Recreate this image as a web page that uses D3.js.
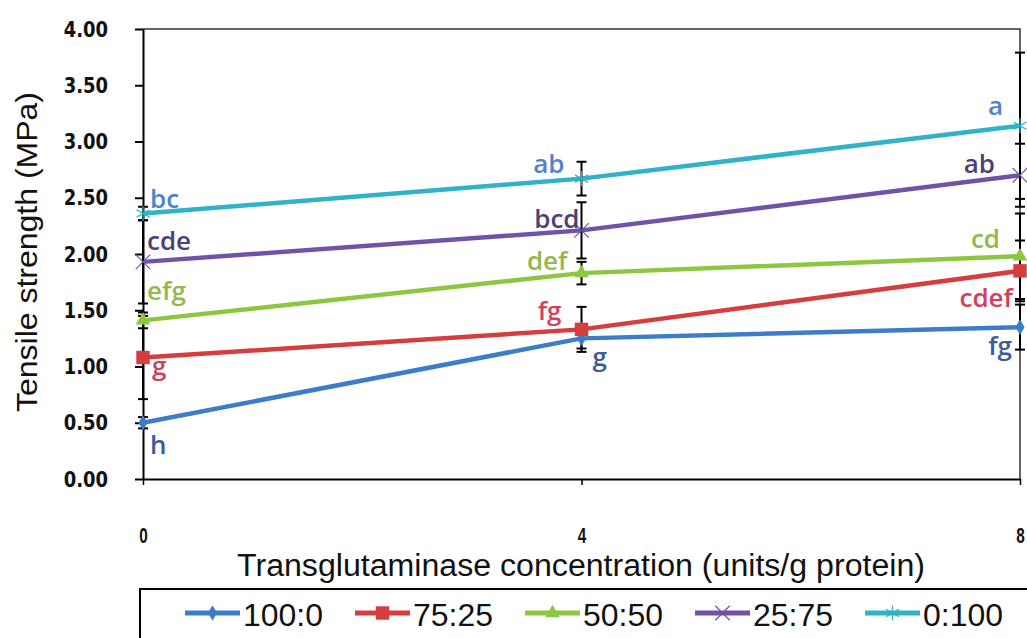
<!DOCTYPE html>
<html>
<head>
<meta charset="utf-8">
<script src="https://cdn.jsdelivr.net/npm/d3@7"></script>
<style>
  html, body { margin: 0; padding: 0; background: #fff; }
  svg { display: block; }
</style>
</head>
<body>
<svg id="chart" width="1027" height="638"></svg>
<script>
// ---------- data ----------
const concentrations = [0, 4, 8];
const xTickLabels = ["0", "4", "8"];
const yTickValues = [0, 0.5, 1, 1.5, 2, 2.5, 3, 3.5, 4];
const seriesNames = ["100:0", "75:25", "50:50", "25:75", "0:100"];

const values_100_0 = [0.50, 1.25, 1.35];
const values_75_25 = [1.08, 1.33, 1.85];
const values_50_50 = [1.41, 1.83, 1.98];
const values_25_75 = [1.93, 2.21, 2.70];
const values_0_100 = [2.36, 2.67, 3.14];

const errors_100_0 = [0.05, 0.09, 0.20];
const errors_75_25 = [0.37, 0.20, 0.27];
const errors_50_50 = [0.07, 0.10, 0.38];
const errors_25_75 = [0.37, 0.25, 0.28];
const errors_0_100 = [0.06, 0.15, 0.65];

const letters_100_0 = ["h", "g", "fg"];
const letters_75_25 = ["g", "fg", "cdef"];
const letters_50_50 = ["efg", "def", "cd"];
const letters_25_75 = ["cde", "bcd", "ab"];
const letters_0_100 = ["bc", "ab", "a"];

const xTitle = "Transglutaminase concentration (units/g protein)";
const yTitle = "Tensile strength (MPa)";

// ---------- styles ----------
const lineColors = ["#3d7cc9", "#d63d3f", "#8dc63f", "#7052a8", "#30b2c8"];
const letterColors = ["#3b5c9a", "#d2415a", "#93b84c", "#4c3f7a", "#4f82d2"];
const symbols = [d3.symbolDiamond, d3.symbolSquare, d3.symbolTriangle,
                 d3.symbolTimes || d3.symbolCross, d3.symbolAsterisk || d3.symbolStar];
const symbolSizes = [70, 180, 90, 140, 160];
const symbolStroked = [false, false, false, true, true];
const sans = "'Liberation Sans', Arial, sans-serif";
// label offsets [dx, dy, anchor] per series per point (pixels)
const labelOffsets = [
  [[7, 31, "start"], [11, 28, "start"], [-8, 28, "end"]],
  [[9, 17, "start"], [-20, -9, "end"], [-7, 36, "end"]],
  [[4, -20, "start"], [-14, -3, "end"], [-20, -8, "end"]],
  [[4, -12, "start"], [-2, -2, "end"], [-25, -2, "end"]],
  [[7, -6, "start"], [-17, -6, "end"], [-17, -11, "end"]]
];

const series = [
  { name: seriesNames[0], values: values_100_0, errors: errors_100_0, letters: letters_100_0 },
  { name: seriesNames[1], values: values_75_25, errors: errors_75_25, letters: letters_75_25 },
  { name: seriesNames[2], values: values_50_50, errors: errors_50_50, letters: letters_50_50 },
  { name: seriesNames[3], values: values_25_75, errors: errors_25_75, letters: letters_25_75 },
  { name: seriesNames[4], values: values_0_100, errors: errors_0_100, letters: letters_0_100 }
];

// ---------- layout ----------
const svg = d3.select("#chart");
const plot = { left: 143, right: 1020, top: 29, bottom: 479 };

const x = d3.scaleLinear().domain([0, 8]).range([plot.left, plot.right]);
const y = d3.scaleLinear().domain([0, 4]).range([plot.bottom, plot.top]);

svg.append("rect").attr("width", 1027).attr("height", 638).attr("fill", "#fff");

// frame (top + right)
svg.append("path")
  .attr("d", `M${plot.left},${plot.top}H${plot.right}V${plot.bottom}`)
  .attr("fill", "none").attr("stroke", "#333").attr("stroke-width", 1.5);

// y axis
const yAxis = svg.append("g")
  .attr("transform", `translate(${plot.left},0)`)
  .call(d3.axisLeft(y).tickValues(yTickValues).tickFormat(d3.format(".2f"))
        .tickSize(8).tickSizeOuter(0).tickPadding(35));
yAxis.attr("font-size", null).attr("font-family", null);
yAxis.select(".domain").attr("stroke", "#000").attr("stroke-width", 2);
yAxis.selectAll(".tick line").attr("stroke", "#000").attr("stroke-width", 2);
yAxis.selectAll(".tick text")
  .attr("x", null).attr("dy", null).attr("text-anchor", "end")
  .style("font-family", "'DejaVu Sans', sans-serif").style("font-weight", "bold")
  .style("font-size", "18px").attr("fill", "#111")
  .attr("transform", "translate(-35,7) scale(1,1.15)");

// x axis
const xAxis = svg.append("g")
  .attr("transform", `translate(0,${plot.bottom})`)
  .call(d3.axisBottom(x).tickValues(concentrations).tickFormat((d, i) => xTickLabels[i])
        .tickSize(6).tickSizeOuter(0).tickPadding(44));
xAxis.attr("font-size", null).attr("font-family", null);
xAxis.select(".domain").attr("stroke", "#000").attr("stroke-width", 2);
xAxis.selectAll(".tick line").attr("stroke", "#000").attr("stroke-width", 1.5);
xAxis.selectAll(".tick text")
  .attr("y", null).attr("dy", null)
  .style("font-family", sans)
  .style("font-weight", "bold").style("font-size", "18px").attr("fill", "#111")
  .attr("transform", "translate(0,64) scale(0.85,1.2)");

// titles
svg.append("text")
  .attr("x", 581).attr("y", 576).attr("text-anchor", "middle")
  .style("font-family", sans).style("font-size", "31px")
  .attr("textLength", 688).attr("lengthAdjust", "spacingAndGlyphs")
  .attr("fill", "#111").text(xTitle);

svg.append("text")
  .attr("transform", "translate(37,252) rotate(-90)")
  .attr("text-anchor", "middle")
  .style("font-family", sans).style("font-size", "30px")
  .attr("textLength", 320).attr("lengthAdjust", "spacingAndGlyphs")
  .attr("fill", "#111").text(yTitle);

// lines
const line = d3.line().x((d, i) => x(concentrations[i])).y(d => y(d));
svg.append("g").selectAll("path").data(series).join("path")
  .attr("d", s => line(s.values))
  .attr("fill", "none")
  .attr("stroke", (s, i) => lineColors[i])
  .attr("stroke-width", 4.5)
  .attr("stroke-linejoin", "round");

// error bars
const eb = svg.append("g").attr("stroke", "#000").attr("stroke-width", 2);
series.forEach(s => {
  s.values.forEach((v, i) => {
    const cx = x(concentrations[i]);
    const y1 = y(v + s.errors[i]), y2 = y(v - s.errors[i]);
    eb.append("line").attr("x1", cx).attr("x2", cx).attr("y1", y1).attr("y2", y2);
    eb.append("line").attr("x1", cx - 5).attr("x2", cx + 5).attr("y1", y1).attr("y2", y1);
    eb.append("line").attr("x1", cx - 5).attr("x2", cx + 5).attr("y1", y2).attr("y2", y2);
  });
});

// markers
function drawMarker(g, si, cx, cy, scale) {
  const p = d3.symbol().type(symbols[si]).size(symbolSizes[si] * (scale || 1))();
  const m = g.append("path").attr("d", p).attr("transform", `translate(${cx},${cy})`);
  if (symbolStroked[si]) {
    m.attr("fill", "none").attr("stroke", lineColors[si]).attr("stroke-width", 1.2);
  } else {
    m.attr("fill", lineColors[si]);
  }
}
const mk = svg.append("g");
series.forEach((s, si) => {
  s.values.forEach((v, i) => drawMarker(mk, si, x(concentrations[i]), y(v)));
});

// significance letters
const lab = svg.append("g")
  .style("font-family", "'Open Sans', Lato, sans-serif").style("font-size", "26px")
  .style("font-weight", 600);
series.forEach((s, si) => {
  s.letters.forEach((t, i) => {
    const o = labelOffsets[si][i];
    lab.append("text")
      .attr("x", x(concentrations[i]) + o[0])
      .attr("y", y(s.values[i]) + o[1])
      .attr("text-anchor", o[2])
      .attr("fill", letterColors[si])
      .text(t);
  });
});

// legend
const lg = svg.append("g");
lg.append("rect").attr("x", 140).attr("y", 589).attr("width", 900).attr("height", 70)
  .attr("fill", "#fff").attr("stroke", "#000").attr("stroke-width", 2);
series.forEach((s, i) => {
  const lx = 185 + i * 170;
  lg.append("line").attr("x1", lx).attr("x2", lx + 55).attr("y1", 613).attr("y2", 613)
    .attr("stroke", lineColors[i]).attr("stroke-width", 5);
  drawMarker(lg, i, lx + 27.5, 613);
  lg.append("text").attr("x", lx + 58).attr("y", 626)
    .style("font-family", sans).style("font-size", "31px")
    .attr("textLength", 80).attr("lengthAdjust", "spacingAndGlyphs")
    .attr("fill", "#111").text(s.name);
});
</script>
</body>
</html>
